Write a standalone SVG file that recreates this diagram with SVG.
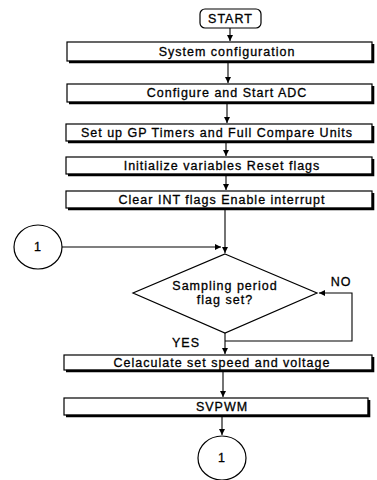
<svg xmlns="http://www.w3.org/2000/svg" width="377" height="480" viewBox="0 0 377 480">
<defs>
<style>
.box{fill:#fff;stroke:#000;stroke-width:1.2}
.sh{fill:none;stroke:#000;stroke-width:2.6}
.t{font-family:"Liberation Sans",Arial,sans-serif;font-size:12.5px;letter-spacing:1px;fill:#000;stroke:#000;stroke-width:0.3px;text-anchor:middle}
.c{fill:none;stroke:#000;stroke-width:1.2}
.ln{fill:none;stroke:#000;stroke-width:1.1}
</style>
<marker id="ah" markerWidth="8" markerHeight="8" refX="6" refY="3" orient="auto" markerUnits="userSpaceOnUse">
<path d="M0,0 L6,3 L0,6 Z" fill="#000"/>
</marker>
</defs>
<rect width="377" height="480" fill="#fff"/>
<g id="connectors">
<line class="ln" x1="230" y1="28" x2="230" y2="41" marker-end="url(#ah)"/>
<line class="ln" x1="228" y1="61" x2="228" y2="83" marker-end="url(#ah)"/>
<line class="ln" x1="227" y1="102" x2="227" y2="123" marker-end="url(#ah)"/>
<line class="ln" x1="226" y1="141" x2="226" y2="156" marker-end="url(#ah)"/>
<line class="ln" x1="226" y1="174" x2="226" y2="190" marker-end="url(#ah)"/>
<line class="ln" x1="225" y1="208" x2="225" y2="253" marker-end="url(#ah)"/>
<line class="ln" x1="62" y1="247" x2="221" y2="247" marker-end="url(#ah)"/>
<polyline class="ln" points="225,341 352,341 352,293 319,293" marker-end="url(#ah)"/>
<line class="ln" x1="225" y1="333" x2="225" y2="354" marker-end="url(#ah)"/>
<line class="ln" x1="223" y1="371" x2="223" y2="397" marker-end="url(#ah)"/>
<line class="ln" x1="222" y1="416" x2="222" y2="435" marker-end="url(#ah)"/>
</g>
<g id="start">
<rect class="box" x="200" y="9" width="61" height="19" rx="5" stroke-width="1.6"/>
<text class="t" x="230.5" y="23">START</text>
</g>
<g id="sysconfig">
<rect class="box" x="67" y="42" width="305" height="19"/>
<path class="sh" d="M69,62 H373 V44"/>
<text class="t" x="227" y="56">System configuration</text>
</g>
<g id="adc">
<rect class="box" x="67" y="84" width="305" height="18"/>
<path class="sh" d="M69,103 H373 V86"/>
<text class="t" x="227" y="97">Configure and Start ADC</text>
</g>
<g id="timers">
<rect class="box" x="66" y="124" width="306" height="17"/>
<path class="sh" d="M68,142 H373 V126"/>
<text class="t" x="217" y="137">Set up GP Timers and Full Compare Units</text>
</g>
<g id="init">
<rect class="box" x="66" y="157" width="306" height="17"/>
<path class="sh" d="M68,175 H373 V159"/>
<text class="t" x="222" y="170">Initialize variables Reset flags</text>
</g>
<g id="clear">
<rect class="box" x="66" y="191" width="306" height="17"/>
<path class="sh" d="M68,209 H373 V193"/>
<text class="t" x="222" y="204">Clear INT flags Enable interrupt</text>
</g>
<g id="conn1">
<ellipse class="c" cx="38" cy="247" rx="24" ry="22"/>
<text class="t" x="38" y="251">1</text>
</g>
<g id="decision">
<polygon class="c" points="225,254 317,293 225,333 133,293"/>
<text class="t" x="225" y="290">Sampling period</text>
<text class="t" x="225" y="304">flag set?</text>
<text class="t" x="341" y="286">NO</text>
<text class="t" x="186" y="347">YES</text>
</g>
<g id="calc">
<rect class="box" x="64" y="355" width="308" height="15"/>
<path class="sh" d="M66,371 H373 V357"/>
<text class="t" x="222" y="367">Celaculate set speed and voltage</text>
</g>
<g id="svpwm">
<rect class="box" x="64" y="398" width="304" height="17"/>
<path class="sh" d="M66,416 H369 V400"/>
<text class="t" x="222" y="411">SVPWM</text>
</g>
<g id="conn2">
<ellipse class="c" cx="222" cy="458" rx="24" ry="22"/>
<text class="t" x="222" y="462">1</text>
</g>
</svg>
